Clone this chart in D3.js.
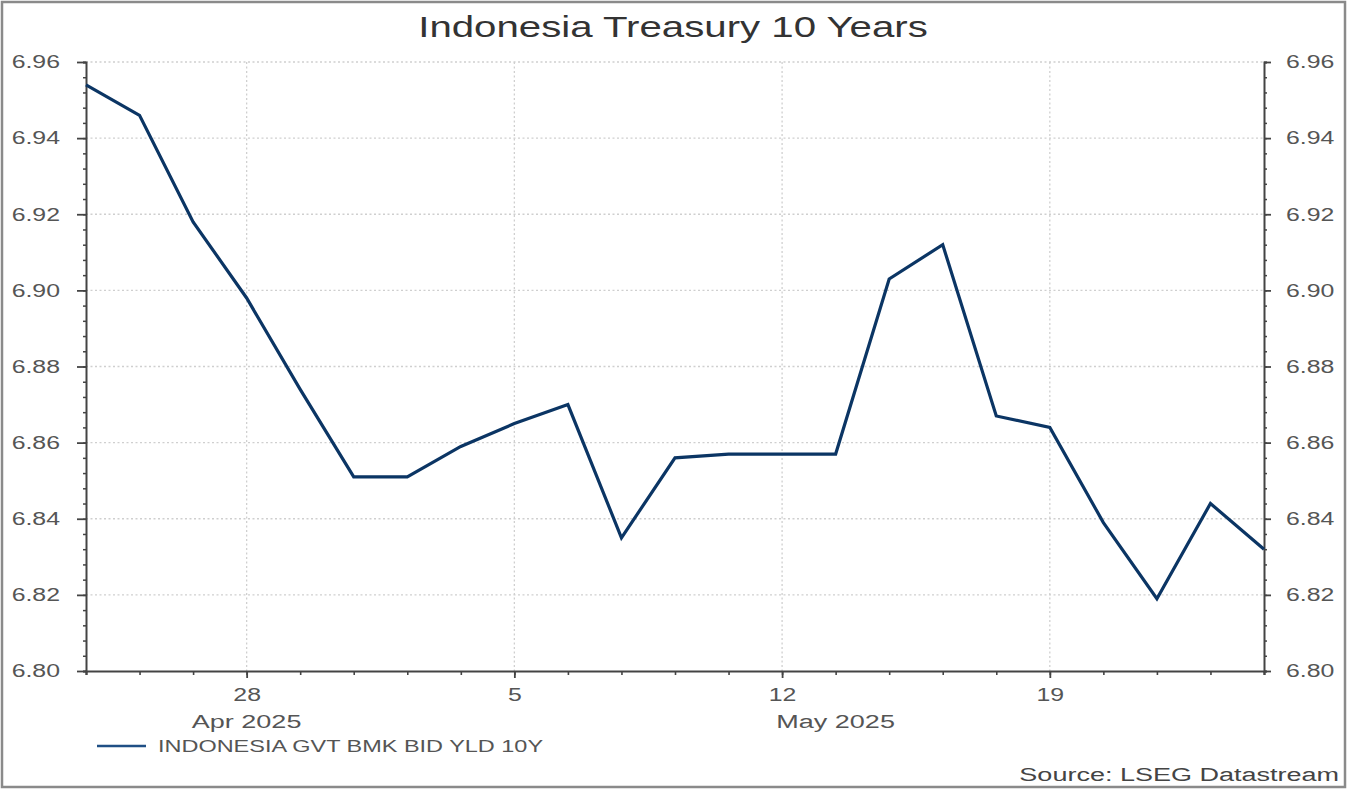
<!DOCTYPE html>
<html><head><meta charset="utf-8">
<script src="https://cdn.jsdelivr.net/npm/d3@7"></script>
<style>body{margin:0;background:#fff}svg{display:block}text{font-family:"Liberation Sans",Arial,sans-serif}</style>
</head><body><svg id="c" width="1347" height="789"></svg>
<script>
const dates = ["2025-04-23","2025-04-24","2025-04-25","2025-04-28","2025-04-29","2025-04-30","2025-05-01","2025-05-02","2025-05-05","2025-05-06","2025-05-07","2025-05-08","2025-05-09","2025-05-12","2025-05-13","2025-05-14","2025-05-15","2025-05-16","2025-05-19","2025-05-20","2025-05-21","2025-05-22","2025-05-23"];
const yields = [6.954,6.946,6.918,6.898,6.874,6.851,6.851,6.859,6.865,6.870,6.835,6.856,6.857,6.857,6.857,6.903,6.912,6.867,6.864,6.839,6.819,6.844,6.832];
const yTicks = [6.80,6.82,6.84,6.86,6.88,6.90,6.92,6.94,6.96];
const xTickDates = ["2025-04-28","2025-05-05","2025-05-12","2025-05-19"];
const xTickLabels = ["28","5","12","19"];
const monthDates = ["2025-04-28","2025-05-13"];
const monthLabels = ["Apr 2025","May 2025"];
const title = "Indonesia Treasury 10 Years";
const seriesName = "INDONESIA GVT BMK BID YLD 10Y";
const source = "Source: LSEG Datastream";

const W=1347,H=789, L=86, R=1264, T=62, B=671;
const svg=d3.select("#c");
const stretch = (sel,k)=>sel.each(function(){const n=this;const len=n.getComputedTextLength();n.setAttribute("textLength",len*k);n.setAttribute("lengthAdjust","spacingAndGlyphs");});

svg.append("rect").attr("x",2).attr("y",2).attr("width",W-4).attr("height",H-4).attr("fill","#fff").attr("stroke","#8a8a8a").attr("stroke-width",2.5);

const x=d3.scalePoint().domain(dates).range([L,R]);
const y=d3.scaleLinear().domain([6.80,6.96]).range([B,T]);

// grid
const g=svg.append("g");
g.selectAll(".hg").data(yTicks.slice(1)).join("line").attr("x1",L).attr("x2",R).attr("y1",d=>y(d)).attr("y2",d=>y(d)).attr("stroke","#cfcfcf").attr("stroke-width",1.3).attr("stroke-dasharray","2,2.5");
g.selectAll(".vg").data(xTickDates).join("line").attr("x1",d=>x(d)).attr("x2",d=>x(d)).attr("y1",T).attr("y2",B).attr("stroke","#cfcfcf").attr("stroke-width",1.3).attr("stroke-dasharray","2,2.5");

const minor = d3.range(0,41).map(i=>6.80+i*0.004);
const axColor="#444";
const lab = s=>s.attr("fill","#555").attr("font-size",18).attr("font-family","Liberation Sans, Arial").call(t=>stretch(t,1.38));
// left axis
svg.append("g").attr("transform",`translate(${L},0)`).call(d3.axisLeft(y).tickValues(minor).tickSize(3).tickFormat("")).call(a=>{a.select(".domain").attr("stroke",axColor).attr("stroke-width",2);a.selectAll("line").attr("stroke",axColor).attr("stroke-width",1.5);});
svg.append("g").attr("transform",`translate(${L},0)`).call(d3.axisLeft(y).tickValues(yTicks).tickSize(9).tickPadding(17).tickFormat(d3.format(".2f"))).call(a=>{a.select(".domain").remove();a.selectAll("line").attr("stroke",axColor).attr("stroke-width",1.8);a.selectAll("text").call(lab);});
// right axis
svg.append("g").attr("transform",`translate(${R},0)`).call(d3.axisRight(y).tickValues(minor).tickSize(3).tickFormat("")).call(a=>{a.select(".domain").attr("stroke",axColor).attr("stroke-width",2);a.selectAll("line").attr("stroke",axColor).attr("stroke-width",1.5);});
svg.append("g").attr("transform",`translate(${R},0)`).call(d3.axisRight(y).tickValues(yTicks).tickSize(7).tickPadding(15).tickFormat(d3.format(".2f"))).call(a=>{a.select(".domain").remove();a.selectAll("line").attr("stroke",axColor).attr("stroke-width",1.8);a.selectAll("text").call(lab);});
// bottom axis
svg.append("g").attr("transform",`translate(0,${B})`).call(d3.axisBottom(x).tickValues(dates).tickSize(4).tickFormat("")).call(a=>{a.select(".domain").attr("stroke",axColor).attr("stroke-width",2.2);a.selectAll("line").attr("stroke",axColor).attr("stroke-width",1.6);});
svg.append("g").attr("transform",`translate(0,${B})`).call(d3.axisBottom(x).tickValues(xTickDates).tickSize(7).tickPadding(10).tickFormat((d,i)=>xTickLabels[i])).call(a=>{a.select(".domain").remove();a.selectAll("line").attr("stroke",axColor).attr("stroke-width",1.8);a.selectAll("text").call(lab);});
svg.selectAll(".mon").data(monthDates).join("text").attr("x",d=>x(d)).attr("y",728).attr("text-anchor","middle").attr("fill","#555").attr("font-size",18).text((d,i)=>monthLabels[i]).call(s=>stretch(s,1.5));

// line
svg.append("path").datum(yields.map((v,i)=>[dates[i],v])).attr("fill","none").attr("stroke","#0b3564").attr("stroke-width",3.2).attr("stroke-linejoin","miter")
  .attr("d",d3.line().x(d=>x(d[0])).y(d=>y(d[1])));

// title
svg.append("text").attr("x",673).attr("y",37).attr("text-anchor","middle").attr("font-size",30).attr("fill","#333").text(title).call(s=>stretch(s,1.34));
// legend
svg.append("line").attr("x1",97).attr("x2",146).attr("y1",746).attr("y2",746).attr("stroke","#1f4f85").attr("stroke-width",2.5);
svg.append("text").attr("x",158).attr("y",752).attr("font-size",17).attr("fill","#555").text(seriesName).call(s=>stretch(s,1.38));
// source
svg.append("text").attr("x",1339).attr("y",781).attr("text-anchor","end").attr("font-size",18).attr("fill","#444").text(source).call(s=>stretch(s,1.5));
</script></body></html>
